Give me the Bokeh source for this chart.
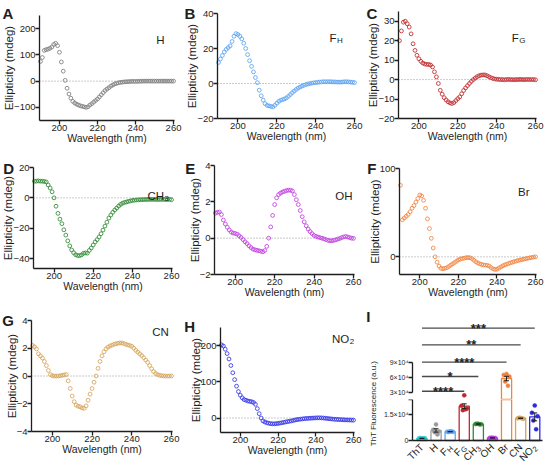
from math import pi

import numpy as np
from bokeh.core.properties import value
from bokeh.embed import file_html
from bokeh.layouts import column, row
from bokeh.models import FixedTicker, Label, LinearAxis, Range1d
from bokeh.plotting import figure
from bokeh.resources import INLINE

FONT = "Liberation Sans"
INK = "#1e1e1e"

# ---------------------------------------------------------------- CD spectra
wavelength = list(range(190, 261))          # nm, one reading per nm
wavelength_lim = (189.5, 260.5)
wavelength_ticks = [200, 220, 240, 260]

cd_h = [75, 90, 117, 120, 122, 125, 130, 140, 144, 135,
        110, 73, 38, 3, -27, -49, -65, -77, -83, -88,
        -91, -94, -96, -98, -100, -98, -91, -86, -80, -74,
        -68, -60, -52, -44, -36, -30, -25, -19, -15, -11,
        -8.5, -6.5, -5, -4, -3, -2.5, -2, -1.5, -1, -1,
        -1, -1, -0.5, -0.5, 0, 0, 0, 0, 0, 0,
        0, 0, 0, 0, 0, 0, 0, 0, 0, 0,
        0]
cd_fh = [12, 14, 16, 18, 19.5, 20.5, 21.5, 24, 27, 28.5,
         28, 27, 25.5, 23, 20, 16.5, 13, 9.8, 6.6, 3.4,
         0.5, -3.8, -7, -9.5, -11.5, -12.5, -12.8, -13.1, -13.4, -12.5,
         -11.3, -10.2, -9.6, -9.2, -8.8, -8.2, -7.3, -6.3, -5.2, -4.3,
         -3.4, -2.6, -2, -1.5, -1, -0.6, -0.3, 0, 0.2, 0.4,
         0.5, 0.7, 0.8, 0.9, 1.0, 1.0, 1.0, 1.0, 1.0, 0.9,
         0.9, 0.8, 0.8, 0.8, 0.9, 1.0, 1.0, 0.9, 0.8, 0.7,
         0.5]
cd_fg = [20, 25, 29.5, 30, 28.7, 27, 23.5, 18.4, 15, 12.5,
         10.7, 9.4, 8.5, 8, 7.8, 7.8, 7.5, 6.5, 4, 1.4,
         -2, -5.5, -7.5, -9.3, -10.5, -11.4, -12, -12.3, -11.8, -10.8,
         -9.8, -8.9, -7.3, -5.6, -4.3, -3.1, -2, -0.9, 0, 0.8,
         1.5, 2, 2.3, 2.4, 2.4, 2, 1.5, 1, 0.6, 0.3,
         0.2, 0.1, 0, 0, -0.1, 0, 0.1, 0, 0, -0.1,
         0, 0, 0.1, 0, 0, 0, 0.1, 0, 0, 0,
         -0.1]
cd_ch3 = [11, 11, 11.2, 11, 11, 10.8, 10.5, 8.5, 6.5, 4,
          0, -5.5, -10.2, -14, -17, -21, -24.5, -28.3, -31.6, -34.3,
          -36.1, -37.4, -38, -38, -37.6, -36.5, -36.2, -36.4, -34.6, -33,
          -31, -29, -27.5, -25.7, -23.6, -21.2, -18.6, -16, -13.3, -11.3,
          -9.5, -8, -6.7, -5.4, -4.3, -3.5, -3, -2.7, -2.3, -2,
          -1.7, -1.5, -1.4, -1.3, -1.2, -1.2, -1.1, -1.1, -1, -1,
          -1, -1, -1, -1.1, -1, -1, -1, -1.1, -1, -1,
          -1.2]
cd_oh = [1.38, 1.42, 1.44, 1.3, 1.0, 0.78, 0.6, 0.45, 0.33, 0.28,
         0.26, 0.22, 0.13, 0.04, -0.08, -0.2, -0.3, -0.42, -0.52, -0.6,
         -0.64, -0.67, -0.69, -0.72, -0.75, -0.68, -0.45, 0.0, 0.62, 1.25,
         1.85, 2.22, 2.4, 2.48, 2.54, 2.58, 2.62, 2.64, 2.64, 2.6,
         2.4, 2.12, 1.85, 1.52, 1.18, 0.9, 0.68, 0.5, 0.36, 0.25,
         0.15, 0.1, 0.06, 0.03, 0.0, -0.04, -0.08, -0.12, -0.14, -0.14,
         -0.12, -0.09, -0.05, -0.02, 0.03, 0.07, 0.09, 0.07, 0.03, 0.0,
         -0.01]
cd_br = [81, 42, 44, 46, 48, 51, 55, 58, 62, 66,
         70, 69, 64, 55, 43, 32, 21, 10, 0, -6,
         -10.5, -13, -13.5, -13, -12.3, -11, -9.5, -8, -6.5, -5,
         -3.5, -2.5, -2, -1.5, -1, -0.8, -1, -2, -3.8, -5.5,
         -6.8, -7.8, -8.6, -9.2, -9.4, -9.6, -10.5, -12.2, -13.6, -14.3,
         -14, -12.8, -11.4, -10.2, -9.2, -8.4, -7.6, -6.8, -6.1, -5.4,
         -4.8, -4.2, -3.6, -3.1, -2.6, -2.1, -1.6, -1.1, -0.7, -0.3,
         0]
cd_cn = [2.2, 2.1, 1.95, 1.6, 1.45, 1.3, 1.05, 0.75, 0.4, 0.1,
         0.02, 0.0, 0.0, 0.0, 0.02, 0.05, 0.08, 0.1, -0.35, -0.9,
         -1.45, -1.85, -2.1, -2.18, -2.22, -2.3, -2.33, -2.15, -1.75, -1.3,
         -0.9, -0.45, 0.0, 0.55, 1.05, 1.45, 1.75, 1.95, 2.08, 2.16,
         2.22, 2.28, 2.32, 2.36, 2.38, 2.38, 2.34, 2.28, 2.24, 2.2,
         2.14, 2.0, 1.85, 1.72, 1.6, 1.47, 1.32, 1.15, 0.98, 0.75,
         0.52, 0.32, 0.18, 0.1, 0.05, 0.02, 0.0, 0.0, -0.01, 0.0,
         0.0]
cd_no2 = [202, 199, 190, 178, 163, 145, 125, 106, 88, 73,
          63, 56, 51, 49, 47, 46, 45, 43, 38, 26,
          12, 0, -8, -11, -13, -14.5, -15.5, -16, -16, -15.5,
          -15, -14, -13, -12, -11, -10, -9, -8, -7, -5.5,
          -4.5, -3.8, -3, -2.4, -1.8, -1.3, -1, -0.6, -0.3, 0,
          0.3, 0.5, 0.5, 0.3, 0, -0.6, -1.2, -1.8, -2.4, -3,
          -3.5, -3.8, -4.1, -4.4, -4.7, -5, -5.2, -5.4, -5.6, -5.8,
          -6]

# ------------------------------------------------------ ThT fluorescence (a.u.)
tht_main = ["ThT", "H", "F", "F", "CH", "OH", "Br", "CN", "NO"]
tht_sub = ["", "", "H", "G", "3", "", "", "", "2"]
tht_colors = ["#22c9d2", "#9b9b9b", "#5ba2f0", "#c0282d", "#2f8a34",
              "#b63fdf", "#f2833f", "#d6a45a", "#2b2be6"]
tht_reps = [
    [1200, 1350, 1250, 1300, 1150],
    [9300, 6200, 5200, 4800, 3500],
    [5300, 5100, 5000, 4900, 5200],
    [25000, 20000, 18500, 17500, 18000],
    [9600, 9500, 9400, 9700, 9300],
    [1600, 1500, 1400, 1550, 1450],
    [67000, 65000, 62000, 52000, 44000],
    [13000, 12800, 12600, 13200, 12700],
    [20200, 16000, 14000, 11500, 6500],
]
# significance brackets: ThT against the group at index sig_to
sig_to = [3, 4, 6, 7, 8]
sig_y = [33000, 62000, 90000, 124000, 157000]
sig_text = ["****", "*", "****", "**", "***"]


def canvas_fig(w, h, xlim, ylim, border):
    """A figure whose frame fills the canvas; xlim/ylim land on the box
    left inside the given (left, right, top, bottom) pixel margins."""
    l, r, t, b = border
    kx = (xlim[1] - xlim[0]) / (w - l - r)
    ky = (ylim[1] - ylim[0]) / (h - t - b)
    p = figure(width=w, height=h,
               x_range=Range1d(xlim[0] - l * kx, xlim[1] + r * kx),
               y_range=Range1d(ylim[0] - b * ky, ylim[1] + t * ky),
               min_border=0, x_axis_type=None, y_axis_type=None,
               output_backend="svg", toolbar_location=None)
    p.outline_line_color = None
    return p


def at(p, px, py):
    """Data position of a pixel spot measured from the canvas top-left."""
    xs, xe = p.x_range.start, p.x_range.end
    ys, ye = p.y_range.start, p.y_range.end
    return xs + px * (xe - xs) / p.width, ye - py * (ye - ys) / p.height


def per_px(p):
    return ((p.x_range.end - p.x_range.start) / p.width,
            (p.y_range.end - p.y_range.start) / p.height)


def put(p, px, py, text, size, bold=False, align="left",
        baseline="alphabetic", angle=0.0):
    x, y = at(p, px, py)
    p.add_layout(Label(x=x, y=y, text=text, text_font=FONT,
                       text_font_size=f"{size}px",
                       text_font_style="bold" if bold else "normal",
                       text_color=INK, text_align=align,
                       text_baseline=baseline, angle=angle))


def style_axis(ax, label_px, standoff, tick_px="9.5px"):
    ax.axis_line_color = INK
    ax.axis_line_width = 1.3
    ax.major_tick_line_color = INK
    ax.major_tick_line_width = 1.3
    ax.major_tick_in = 0
    ax.major_tick_out = 4
    ax.minor_tick_line_color = None
    ax.major_label_standoff = 0
    ax.major_label_text_font = FONT
    ax.major_label_text_font_size = tick_px
    ax.major_label_text_color = INK
    ax.axis_label_text_font = FONT
    ax.axis_label_text_font_size = label_px
    ax.axis_label_text_font_style = "normal"
    ax.axis_label_text_color = INK
    ax.axis_label_standoff = standoff


def add_axis(p, side, loc, bounds, ticks, label=None, label_px="11px",
             standoff=2, tick_px="9.5px", overrides=None):
    ax = LinearAxis(fixed_location=loc, bounds=bounds,
                    ticker=FixedTicker(ticks=ticks))
    if label:
        ax.axis_label = label
    if overrides:
        ax.major_label_overrides = overrides
    style_axis(ax, label_px, standoff, tick_px)
    p.add_layout(ax, side)
    return ax


# letter, series, colour, y range, y ticks, size, margins (l, r, t, b),
# letter spot, tag (main, sub, x, main baseline, sub baseline)
panels = [
    ("A", cd_h, "#7d7d7d", (-150, 250), [-100, 0, 100, 200], (182, 150),
     (39, 8, 15, 30), (2, 12.7), ("H", "", 164, 39, 0)),
    ("B", cd_fh, "#5ba2f0", (-20, 40), [-20, 0, 20, 40], (182, 150),
     (35, 9, 13, 32), (2, 12.7), ("F", "H", 154, 37, 39.5)),
    ("C", cd_fg, "#c0282d", (-20, 35), [-20, -10, 0, 10, 20, 30], (182, 150),
     (34, 10, 11, 32), (2, 13), ("F", "G", 154.3, 37.3, 40)),
    ("D", cd_ch3, "#2f8a34", (-46.5, 20), [-40, -20, 0, 20], (182, 155),
     (33, 10, 17, 37), (2.7, 18.3), ("CH", "3", 163.5, 45.7, 47.8)),
    ("E", cd_oh, "#c13fe0", (-2, 4), [-2, 0, 2, 4], (182, 155),
     (32, 10, 15, 31), (2.7, 18.3), ("OH", "", 170, 45.7, 0)),
    ("F", cd_br, "#f2833f", (-20, 100), [0, 100], (182, 155),
     (35, 10, 18, 31), (2.7, 18.3), ("Br", "", 165, 41.7, 0)),
    ("G", cd_cn, "#d6a45a", (-4, 4), [-4, -2, 0, 2, 4], (182, 160),
     (31, 10, 15, 34), (1.7, 15), ("CN", "", 168.3, 26.7, 0)),
    ("H", cd_no2, "#3434e8", (-40, 250), [0, 100, 200], (182, 160),
     (38, 10, 22, 33), (1.7, 20.7), ("NO", "2", 166.8, 33.3, 36)),
]


def cd_panel(letter, series, color, yr, yticks, size, margins, letter_at, tag):
    w, h = size
    p = canvas_fig(w, h, wavelength_lim, yr, margins)
    add_axis(p, "left", wavelength_lim[0], yr, yticks,
             label="Ellipticity (mdeg)", label_px="11.5px", standoff=-4)
    add_axis(p, "below", yr[0], wavelength_lim, wavelength_ticks,
             label="Wavelength (nm)", label_px="10.5px", standoff=-2)
    # dotted zero reference across the wavelength window
    p.segment(x0=[wavelength_lim[0]], y0=[0], x1=[wavelength_lim[1]], y1=[0],
              line_color="#8c8c8c", line_width=0.9, line_dash="1 2")
    p.scatter(x=wavelength, y=series, marker="circle", size=3.8,
              fill_color=None, line_color=color, line_width=0.85)
    put(p, letter_at[0], letter_at[1], letter, 15, bold=True)
    main, sub, tx, ym, ysub = tag
    put(p, tx, ym, main, 11.5, align="right")
    if sub:
        put(p, tx + 0.4, ysub, sub, 8, align="left")
    return p


figs = [cd_panel(*spec) for spec in panels]

# ------------------------------------------------ panel I, broken y axis
cat_x = list(range(len(tht_main)))
cat_lim = (-0.67, 8.55)
means = [float(np.mean(r)) for r in tht_reps]
sems = [float(np.std(r, ddof=1) / np.sqrt(len(r))) for r in tht_reps]
spread = [0.0, -0.2, 0.2, -0.1, 0.1]

# value window of each axis segment (pixel scale kept from the axis layout)
upper_lim = (16861, 191400)
lower_lim = (0, 23669)


def tht_fig(h, ylim, margins, upper):
    p = canvas_fig(166, h, cat_lim, ylim, margins)
    split = lower_lim[1]
    # tall bars run through both segments; the rest stay in the lower one
    bx_ = [c for c, m in zip(cat_x, means) if m >= split or not upper]
    bt_ = [m for m in means if m >= split or not upper]
    bc_ = [col for col, m in zip(tht_colors, means) if m >= split or not upper]
    p.vbar(x=bx_, top=bt_, bottom=0, width=0.72, fill_color="white",
           line_color=bc_, line_width=1.3)
    # every replicate and error bar lives in exactly one segment
    px_, py_, pc_ = [], [], []
    for i, reps in enumerate(tht_reps):
        for k, v in enumerate(reps):
            if (v >= split) == upper:
                px_.append(i + spread[k])
                py_.append(v)
                pc_.append(tht_colors[i])
    p.scatter(x=px_, y=py_, marker="circle", size=4, fill_color=pc_,
              line_color=pc_, line_width=0.5)
    ex = [c for c, m in zip(cat_x, means) if (m >= split) == upper]
    lo = [m - s for m, s in zip(means, sems) if (m >= split) == upper]
    hi = [m + s for m, s in zip(means, sems) if (m >= split) == upper]
    p.segment(x0=ex, y0=lo, x1=ex, y1=hi, line_color=INK, line_width=1)
    for ends in (lo, hi):
        p.segment(x0=[c - 0.17 for c in ex], y0=ends,
                  x1=[c + 0.17 for c in ex], y1=ends,
                  line_color=INK, line_width=1)
    if upper:
        p.segment(x0=[0] * len(sig_to), y0=sig_y, x1=sig_to, y1=sig_y,
                  line_color="#4a4a4a", line_width=1.3)
        p.text(x=[s / 2 for s in sig_to], y=sig_y, text=sig_text,
               text_font=value(FONT), text_font_size="13px",
               text_font_style="bold", text_color=INK, text_align="center",
               text_baseline="alphabetic")
    return p


i_top = tht_fig(94, upper_lim, (32, 4, 5, 0), True)
i_bot = tht_fig(66, lower_lim, (32, 4, 0, 25), False)
add_axis(i_top, "left", cat_lim[0], (30000, 90000), [30000, 60000, 90000],
         tick_px="7px",
         overrides={30000: "3×10⁴", 60000: "6×10⁴", 90000: "9×10⁴"})
add_axis(i_bot, "left", cat_lim[0], (0, 23400), [0, 15000, 23400],
         tick_px="7px", overrides={0: "0", 15000: "1.5×10⁴", 23400: ""})
bx = add_axis(i_bot, "below", 0, cat_lim, [])
bx.major_tick_out = 0

# rotated group names under the bars, with subscripts where needed
sub_em = {"H": 0.722, "G": 0.778, "3": 0.556, "2": 0.556}
kx, ky = per_px(i_bot)
_, y_anchor = at(i_bot, 0, 46)
main_x, main_y, sub_x, sub_y, sub_t = [], [], [], [], []
for c, main, sub in zip(cat_x, tht_main, tht_sub):
    if sub:
        back = 0.707 * (sub_em[sub] * 7.5 + 0.4)
        main_x.append(c - back * kx)
        main_y.append(y_anchor - back * ky)
        sub_x.append(c + 1.9 * kx)
        sub_y.append(y_anchor - 1.9 * ky)
        sub_t.append(sub)
    else:
        main_x.append(c)
        main_y.append(y_anchor)
i_bot.text(x=main_x, y=main_y, text=tht_main, angle=pi / 4,
           text_font=value(FONT), text_font_size="10px", text_color=INK,
           text_align="right", text_baseline="middle")
i_bot.text(x=sub_x, y=sub_y, text=sub_t, angle=pi / 4,
           text_font=value(FONT), text_font_size="7.5px", text_color=INK,
           text_align="right", text_baseline="middle")

i_lab = figure(width=16, height=160, x_range=Range1d(0, 16),
               y_range=Range1d(0, 160), output_backend="svg",
               toolbar_location=None, min_border=0, x_axis_type=None,
               y_axis_type=None)
i_lab.outline_line_color = None
i_lab.add_layout(Label(x=1.7, y=160 - 19.3, text="I", text_font=FONT,
                       text_font_size="15px", text_font_style="bold",
                       text_color=INK))
i_lab.add_layout(Label(x=9, y=62, text="ThT Fluorescence (a.u.)",
                       text_font=FONT, text_font_size="8px", text_color=INK,
                       text_align="center", text_baseline="middle",
                       angle=pi / 2))

panel_i = row(i_lab, column(i_top, i_bot))
layout = column(row(figs[0], figs[1], figs[2]),
                row(figs[3], figs[4], figs[5]),
                row(figs[6], figs[7], panel_i))

open("out.html", "w").write(file_html(layout, INLINE))
